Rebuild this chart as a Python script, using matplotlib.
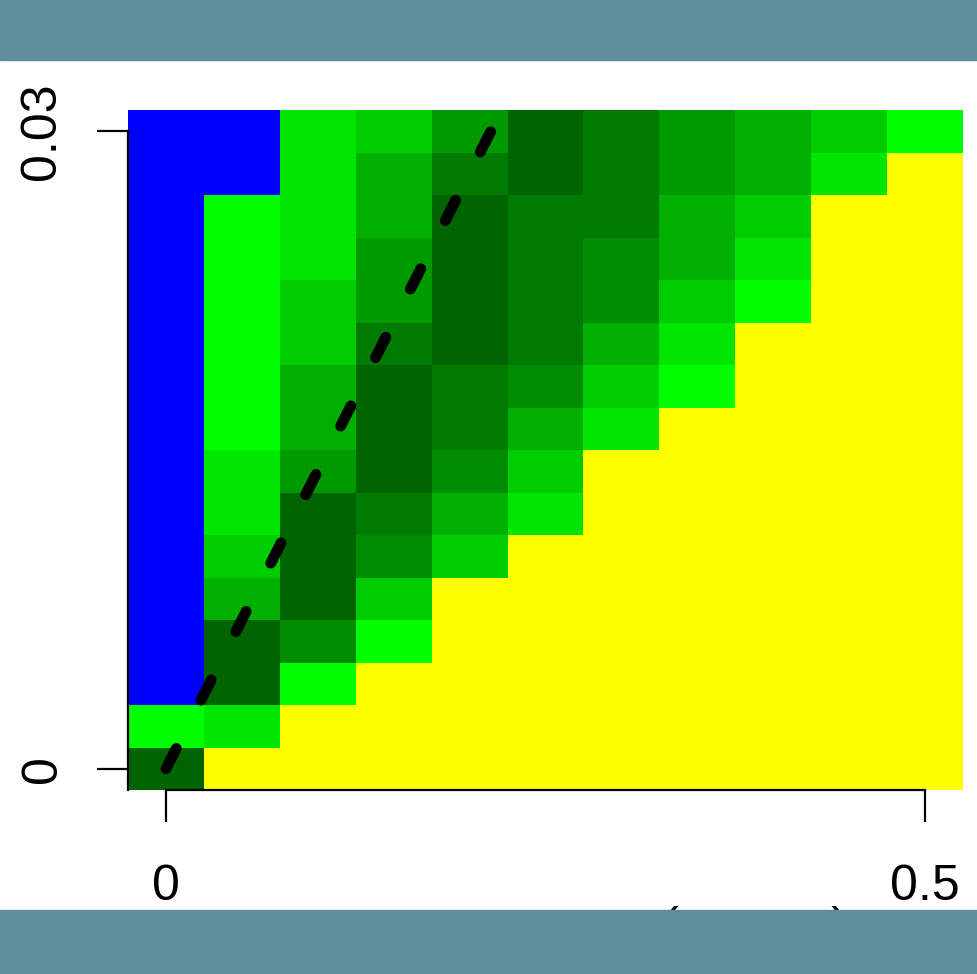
import matplotlib
matplotlib.use("Agg")
import matplotlib.pyplot as plt
import numpy as np
from matplotlib.colors import ListedColormap, BoundaryNorm
from matplotlib.patches import Rectangle

plt.rcParams['font.family'] = ['Liberation Sans', 'DejaVu Sans']

# grid positions (cell centres)
x_vals = np.round(np.arange(0, 0.5001, 0.05), 3)
y_vals = np.round(np.arange(0, 0.0301, 0.002), 4)

# cell classes, rows listed from y = 0.03 (top) down to y = 0 (bottom)
# 0 = blue, 1..8 = green shades light -> dark, 9 = yellow
class_rows = [
    [0, 0, 2, 3, 5, 8, 7, 5, 4, 3, 1],
    [0, 0, 2, 4, 7, 8, 7, 5, 4, 2, 9],
    [0, 1, 2, 4, 8, 7, 7, 4, 3, 9, 9],
    [0, 1, 2, 5, 8, 7, 6, 4, 2, 9, 9],
    [0, 1, 3, 5, 8, 7, 6, 3, 1, 9, 9],
    [0, 1, 3, 7, 8, 7, 4, 2, 9, 9, 9],
    [0, 1, 4, 8, 7, 6, 3, 1, 9, 9, 9],
    [0, 1, 4, 8, 7, 4, 2, 9, 9, 9, 9],
    [0, 2, 5, 8, 6, 3, 9, 9, 9, 9, 9],
    [0, 2, 8, 7, 4, 2, 9, 9, 9, 9, 9],
    [0, 3, 8, 6, 3, 9, 9, 9, 9, 9, 9],
    [0, 4, 8, 3, 9, 9, 9, 9, 9, 9, 9],
    [0, 8, 6, 1, 9, 9, 9, 9, 9, 9, 9],
    [0, 8, 1, 9, 9, 9, 9, 9, 9, 9, 9],
    [1, 2, 9, 9, 9, 9, 9, 9, 9, 9, 9],
    [8, 9, 9, 9, 9, 9, 9, 9, 9, 9, 9],
]

class_colors = ['#0000FF', '#00FF00', '#00E600', '#00CC00', '#00B000',
                '#009900', '#008C00', '#007A00', '#006400', '#FFFF00']

# dashed reference line
line_x = [0, 0.214]
line_y = [0, 0.03]

x_ticks = [0, 0.5]
x_ticklabels = ['0', '0.5']
y_ticks = [0, 0.03]
y_ticklabels = ['0', '0.03']

grid = np.array(class_rows[::-1])  # bottom row first
cmap = ListedColormap(class_colors)
norm = BoundaryNorm(np.arange(-0.5, len(class_colors) + 0.5), cmap.N)

fig = plt.figure(figsize=(9.77, 9.74), dpi=100)
ax = fig.add_axes([128/977, 184/974, 835/977, 680/974])

ax.pcolormesh(x_vals, y_vals, grid, cmap=cmap, norm=norm, shading='nearest')
dash_line, = ax.plot(line_x, line_y, color='black', lw=7.8)
dash_line.set_dashes((2.1, 5.0))
dash_line.set_dash_capstyle('round')

ax.set_xlim(-0.025, 0.525)
ax.set_ylim(-0.001, 0.031)

# R-like axes
for s in ['top', 'right']:
    ax.spines[s].set_visible(False)
ax.spines['left'].set_bounds(-0.001, 0.03)
ax.spines['bottom'].set_bounds(0, 0.5)
for s in ['left', 'bottom']:
    ax.spines[s].set_linewidth(1.6)

ax.set_xticks(x_ticks, labels=x_ticklabels)
ax.set_yticks(y_ticks, labels=y_ticklabels)
ax.tick_params(axis='x', length=23, width=1.6, pad=30, labelsize=36)
ax.tick_params(axis='y', length=22, width=1.6, pad=23, labelsize=36)
for lab in ax.get_yticklabels():
    lab.set_rotation(90)
    lab.set_va('center')

# x label, mostly hidden under the bottom band
fig.text(755/977, (974 - 906)/974, '(' + ' ' * 11 + ')', ha='center', va='top',
         fontsize=36)

# teal bands at top and bottom
band = '#5E8E9A'
fig.add_artist(Rectangle((0, 914/974), 1, 60/974, transform=fig.transFigure,
                         color=band, zorder=10))
fig.add_artist(Rectangle((0, 0), 1, 64/974, transform=fig.transFigure,
                         color=band, zorder=10))

fig.savefig('out.png', dpi=100)
